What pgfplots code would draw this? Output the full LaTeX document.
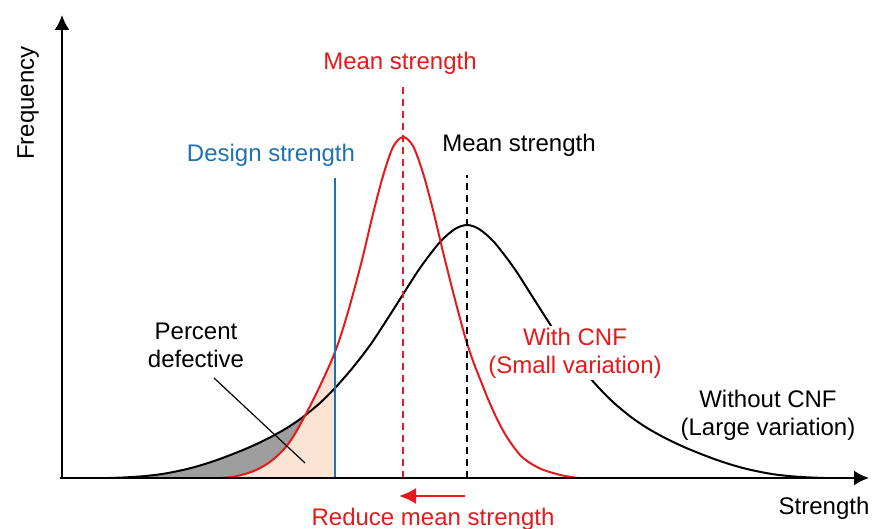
\documentclass[border=0pt]{standalone}
\usepackage{pgfplots}
\pgfplotsset{compat=1.18}
\usepgfplotslibrary{fillbetween}
\usetikzlibrary{arrows.meta}
\usepackage{fontspec}
\setmainfont{Liberation Sans}
\definecolor{cred}{RGB}{228,26,28}
\definecolor{cblue}{RGB}{31,113,176}
\definecolor{cbeige}{RGB}{251,228,212}
\definecolor{cgray}{RGB}{158,158,158}
\newcommand\lbl{\fontsize{12bp}{14bp}\selectfont}
\begin{document}
\begin{tikzpicture}
\begin{axis}[width=438.5bp, height=264.5bp, scale only axis,
  xmin=0, xmax=877, ymin=-51, ymax=478, hide axis, clip=false]
% baseline path
\addplot[draw=none, name path=base] coordinates {(62,0) (868,0)};
% Without CNF (large variation)
\addplot[draw=none, name path=blk, smooth] coordinates {
(62,0) (110,0) (125,0.6) (140,1.5) (155,3) (167,4.8) (185,8.5) (200,12.5) (217,18) (233,24)
(250,31) (267,39) (280,46) (290,52) (303,61) (320,75) (335,90) (350,107) (362,122) (373,137)
(388,160) (402,182) (420,210) (440,236) (455,249) (467,253) (479,249) (494,236) (514,210)
(532,182) (546,160) (561,137) (572,122) (584,107) (599,90) (614,75) (631,61) (644,52) (654,46)
(667,39) (684,31) (701,24) (717,18) (734,12.5) (749,8.5) (767,4.8) (779,3) (794,1.5) (809,0.6)
(824,0) (868,0)};
% With CNF (small variation)
\addplot[draw=none, name path=red, smooth] coordinates {
(62,0) (205,0) (220,0) (232,1) (245,4) (256,8) (267,14) (276,21) (285,30) (293,41) (301,55)
(309,70) (318,88) (326,105) (333,121) (340,140) (348,166) (356,195) (363,222) (373,264)
(383,302) (393,331) (403,341) (413,332) (423,305) (433,268) (443,226) (450,198) (458,167)
(466,138) (473,117) (480,99) (488,79) (497,59) (505,44) (513,32) (521,22) (530,15) (541,9)
(553,5) (565,2) (578,0) (595,0) (868,0)};
% shaded areas
\addplot[cbeige] fill between[of=red and base, soft clip={domain=200:334.5}];
\addplot[cgray] fill between[of=blk and red, soft clip={domain=100:306}];
% curves
\addplot[black, line width=1bp, smooth] coordinates {
(110,0) (125,0.6) (140,1.5) (155,3) (167,4.8) (185,8.5) (200,12.5) (217,18) (233,24)
(250,31) (267,39) (280,46) (290,52) (303,61) (320,75) (335,90) (350,107) (362,122) (373,137)
(388,160) (402,182) (420,210) (440,236) (455,249) (467,253) (479,249) (494,236) (514,210)
(532,182) (546,160) (561,137) (572,122) (584,107) (599,90) (614,75) (631,61) (644,52) (654,46)
(667,39) (684,31) (701,24) (717,18) (734,12.5) (749,8.5) (767,4.8) (779,3) (794,1.5) (809,0.6)
(824,0)};
\addplot[cred, line width=1bp, smooth] coordinates {
(220,0) (232,1) (245,4) (256,8) (267,14) (276,21) (285,30) (293,41) (301,55)
(309,70) (318,88) (326,105) (333,121) (340,140) (348,166) (356,195) (363,222) (373,264)
(383,302) (393,331) (403,341) (413,332) (423,305) (433,268) (443,226) (450,198) (458,167)
(466,138) (473,117) (480,99) (488,79) (497,59) (505,44) (513,32) (521,22) (530,15) (541,9)
(553,5) (565,2) (578,0)};
% vertical lines
\addplot[cblue, line width=1bp] coordinates {(334.5,0) (334.5,300)};
\addplot[cred, line width=0.9bp, dash pattern=on 3.5bp off 2.5bp] coordinates {(403,0) (403,396)};
\addplot[black, line width=0.9bp, dash pattern=on 3.5bp off 2.5bp] coordinates {(467,0) (467,303)};
% pointer
\addplot[black, line width=0.6bp] coordinates {(214,100) (305,15)};
% axes
\draw[line width=1bp, -{Latex[length=7.5bp,width=7.5bp]}] (axis cs:62,0) -- (axis cs:62,463);
\draw[line width=1bp, -{Latex[length=7.5bp,width=7.5bp]}] (axis cs:60,0) -- (axis cs:869,0);
% reduce arrow
\draw[cred, line width=1bp, -{Latex[length=8.5bp,width=8bp]}] (axis cs:465,-18) -- (axis cs:399,-18);
% labels
\node[rotate=90, font=\lbl] at (axis cs:28,375) {Frequency};
\node[font=\lbl, text=cred] at (axis cs:400,415) {Mean strength};
\node[font=\lbl] at (axis cs:519,333) {Mean strength};
\node[font=\lbl, text=cblue] at (axis cs:271,323) {Design strength};
\node[font=\lbl, align=center] at (axis cs:196,133) {Percent\\[0bp]defective};
\node[font=\lbl, text=cred, align=center, fill=white, inner sep=1bp] at (axis cs:575,125) {With CNF\\(Small variation)};
\node[font=\lbl, align=center] at (axis cs:768,62.5) {Without CNF\\(Large variation)};
\node[font=\lbl] at (axis cs:824,-30) {Strength};
\node[font=\lbl, text=cred] at (axis cs:433,-41) {Reduce mean strength};
\coordinate (SW) at (axis cs:0,-51);
\coordinate (NE) at (axis cs:877,478);
\end{axis}
\pgfresetboundingbox
\path (SW) rectangle (NE);
\end{tikzpicture}
\end{document}
